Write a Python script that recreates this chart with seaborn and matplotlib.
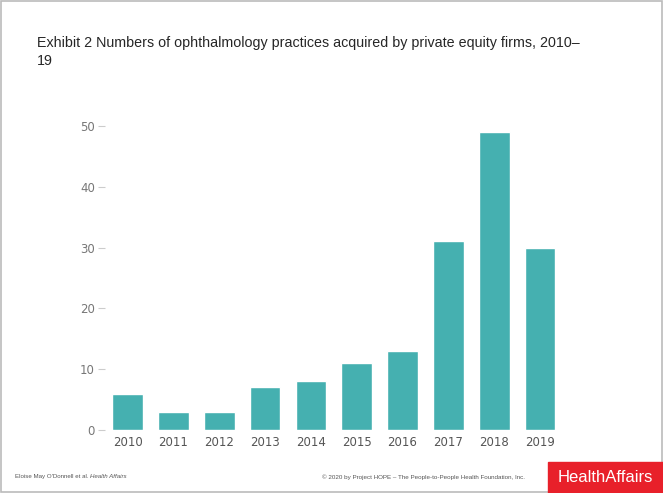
import pandas as pd
import seaborn as sns
import matplotlib.pyplot as plt
from matplotlib.patches import Rectangle

years = ["2010", "2011", "2012", "2013", "2014", "2015", "2016", "2017", "2018", "2019"]
acquisitions = [6, 3, 3, 7, 8, 11, 13, 31, 49, 30]
y_ticks = [0, 10, 20, 30, 40, 50]

df = pd.DataFrame({"year": years, "count": acquisitions})

sns.set_style("white")
fig = plt.figure(figsize=(6.63, 4.93), dpi=100)
ax = fig.add_axes([0.158, 0.1278, 0.691, 0.623])

sns.barplot(data=df, x="year", y="count", color="#45b0b0", saturation=1, width=0.67, ax=ax)
ax.set_xlim(-0.5, 9.5)
ax.set_ylim(0, 50.5)
ax.set_yticks(y_ticks)
ax.set_xlabel("")
ax.set_ylabel("")
sns.despine(ax=ax, left=True, bottom=True)
ax.tick_params(axis="y", length=5, color="#cccccc", labelcolor="#777777", labelsize=8.5, pad=2, left=True)
ax.tick_params(axis="x", length=0, labelcolor="#555555", labelsize=8.5, pad=4)
for t in ax.get_xticklabels() + ax.get_yticklabels():
    t.set_family("DejaVu Sans")

fig.text(0.056, 0.926, "Exhibit 2 Numbers of ophthalmology practices acquired by private equity firms, 2010\u2013\n19",
         fontsize=10.3, family="Liberation Sans", va="top", linespacing=1.3)

left_note = fig.text(0.022, 0.033, "Eloise May O'Donnell et al. ", fontsize=4.4, family="Liberation Sans",
                     color="#555555", va="center")
ax.annotate("Health Affairs", xy=(1, 0.5), xycoords=left_note, va="center", fontsize=4.4,
            family="Liberation Sans", color="#555555", style="italic", annotation_clip=False)
fig.text(0.485, 0.033, "\u00a9 2020 by Project HOPE \u2013 The People-to-People Health Foundation, Inc.",
         fontsize=4.5, family="Liberation Sans", color="#555555", va="center")

fig.patches.append(Rectangle((0.826, 0.0), 0.174, 0.063, transform=fig.transFigure, color="#e8202a", zorder=2))
fig.text(0.913, 0.032, "HealthAffairs", fontsize=12, family="Liberation Sans", color="white",
         ha="center", va="center", zorder=3)

fig.patches.append(Rectangle((0.002, 0.002), 0.996, 0.996, transform=fig.transFigure, fill=False,
                             edgecolor="#bbbbbb", linewidth=1.2, zorder=1))

fig.savefig("out.png", dpi=100)
